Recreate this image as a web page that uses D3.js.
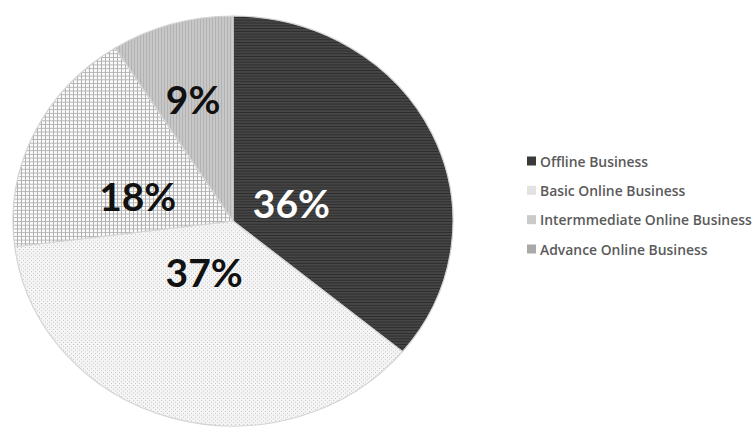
<!DOCTYPE html>
<html>
<head>
<meta charset="utf-8">
<script src="https://cdn.jsdelivr.net/npm/d3@7"></script>
<style>
  body { margin: 0; background: #fff; }
  svg { display: block; }
</style>
</head>
<body>
<svg id="chart"></svg>
<script>
// Pie chart of business types

const categories = ["Offline Business", "Basic Online Business", "Intermmediate Online Business", "Advance Online Business"];
const shares = [36, 37, 18, 9];
const labels = ["36%", "37%", "18%", "9%"];

const width = 754, height = 427;
const cx = 233, cy = 221;
const rx = 220, ry = 205;   // the original pie is slightly stretched

const svg = d3.select("#chart")
  .attr("width", width)
  .attr("height", height);

const defs = svg.append("defs");

// fill patterns, one per slice
function stripes(id, bg, fg, size, dir) {
  const p = defs.append("pattern")
    .attr("id", id)
    .attr("patternUnits", "userSpaceOnUse")
    .attr("width", size).attr("height", size);
  p.append("rect").attr("width", size).attr("height", size).attr("fill", bg);
  if (dir === "h" || dir === "grid")
    p.append("rect").attr("width", size).attr("height", 1).attr("fill", fg);
  if (dir === "v" || dir === "grid")
    p.append("rect").attr("width", 1).attr("height", size).attr("fill", fg);
  if (dir === "dots") {
    p.append("rect").attr("width", 1).attr("height", 1).attr("fill", fg);
    p.append("rect").attr("x", size / 2).attr("y", size / 2).attr("width", 1).attr("height", 1).attr("fill", fg);
  }
}
stripes("p0", "#464646", "#2c2c2c", 3, "h");
stripes("p1", "#f5f5f5", "#c4c4c4", 4, "dots");
stripes("p2", "#fbfbfb", "#b2b2b2", 4, "grid");
stripes("p3", "#c7c7c7", "#b3b3b3", 3, "v");

const fills = ["url(#p0)", "url(#p1)", "url(#p2)", "url(#p3)"];
const swatch = ["#3a3a3a", "#e2e2e2", "#cacaca", "#a9a9a9"];
const labelColor = ["#fff", "#111", "#111", "#111"];
// where each label sits inside its slice: fraction of radius, angle shift (deg)
const labelLayout = [[0.28, 6.8], [0.28, 11.7], [0.45, -9.4], [0.62, -0.8]];

const pie = d3.pie().sort(null)(shares);
const arc = d3.arc().innerRadius(0).outerRadius(rx);

const g = svg.append("g")
  .attr("transform", `translate(${cx},${cy}) scale(1,${ry / rx})`);

g.selectAll("path")
  .data(pie)
  .join("path")
  .attr("d", arc)
  .attr("fill", (d, i) => fills[i])
  .attr("stroke", "#d4d4d4")
  .attr("stroke-width", 1.2);

// percentage labels
svg.selectAll("text.pct")
  .data(pie)
  .join("text")
  .attr("class", "pct")
  .attr("x", (d, i) => {
    const a = (d.startAngle + d.endAngle) / 2 + labelLayout[i][1] * Math.PI / 180;
    return cx + labelLayout[i][0] * rx * Math.sin(a);
  })
  .attr("y", (d, i) => {
    const a = (d.startAngle + d.endAngle) / 2 + labelLayout[i][1] * Math.PI / 180;
    return cy - labelLayout[i][0] * ry * Math.cos(a);
  })
  .attr("text-anchor", "middle")
  .attr("dominant-baseline", "central")
  .style("font-family", "Lato, 'Open Sans', sans-serif")
  .style("font-weight", "bold")
  .style("font-size", "39px")
  .attr("fill", (d, i) => labelColor[i])
  .text((d, i) => labels[i]);

// legend
const legendY = d3.scalePoint().domain(categories).range([161, 249]);

const legend = svg.append("g");
legend.selectAll("rect")
  .data(categories)
  .join("rect")
  .attr("x", 527)
  .attr("y", d => legendY(d) - 4.5)
  .attr("width", 9)
  .attr("height", 9)
  .attr("fill", (d, i) => swatch[i]);

legend.selectAll("text")
  .data(categories)
  .join("text")
  .attr("x", 540)
  .attr("y", d => legendY(d))
  .attr("dominant-baseline", "central")
  .style("font-family", "'Open Sans', sans-serif")
  .style("font-weight", 600)
  .style("font-size", "13.9px")
  .attr("fill", "#5a5a5a")
  .text(d => d);
</script>
</body>
</html>
